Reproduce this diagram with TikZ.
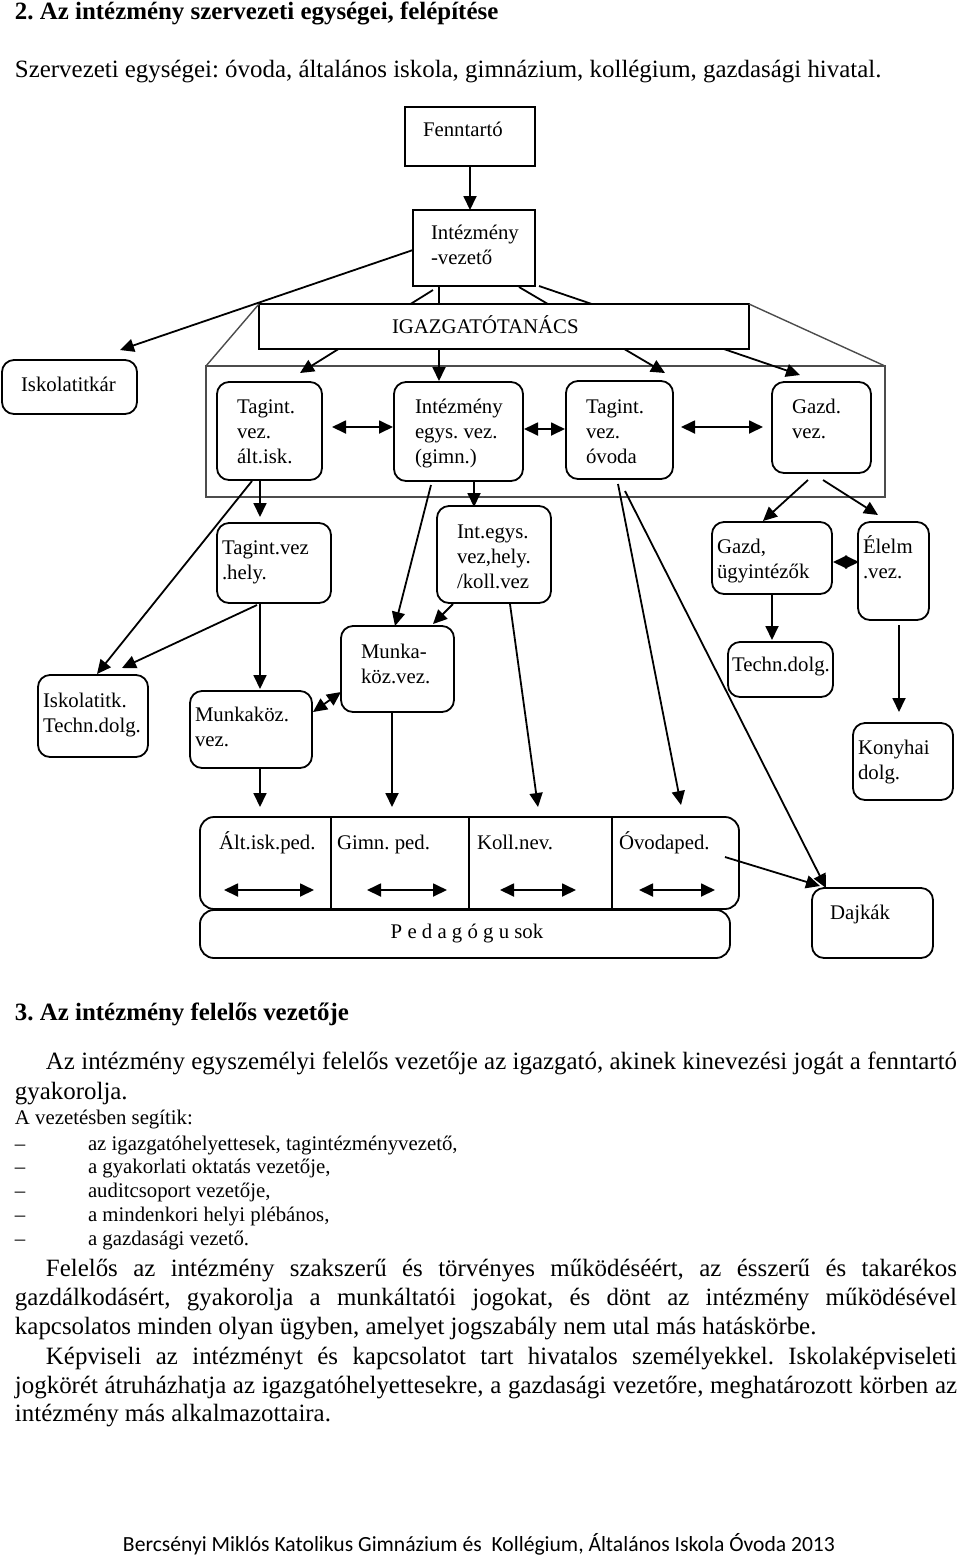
\documentclass[tikz,border=0pt]{standalone}
\usepackage{fontspec}
\usepackage{graphicx}
\setmainfont{Liberation Serif}
\newfontfamily\footfont{Carlito}
\usetikzlibrary{arrows.meta,calc,fit}
\begin{document}
\frenchspacing
\begin{tikzpicture}[x=0.5pt,y=-0.5pt,
  every node/.style={inner sep=0pt,outer sep=0pt},
  sbox/.style={draw,line width=0.9pt,fit={#1},inner sep=0pt},
  rbox/.style={draw,line width=0.9pt,rounded corners=6pt,fit={#1},inner sep=0pt},
  btxt/.style={anchor=north west,align=left,font=\fontsize{10.4}{12.5}\selectfont},
  ptxt/.style={anchor=base west,font=\fontsize{12.45}{14}\selectfont},
  btitle/.style={anchor=base west,font=\bfseries\fontsize{12.45}{14}\selectfont},
  ltxt/.style={anchor=base west,font=\fontsize{10.4}{12.5}\selectfont},
  arr/.style={line width=0.9pt,-{Triangle[length=7pt,width=6.5pt]}},
  darr/.style={line width=0.9pt,{Triangle[length=7pt,width=6.5pt]}-{Triangle[length=7pt,width=6.5pt]}},
  frm/.style={draw=black!70,line width=0.7pt}
]
\fill[white] (0,0) rectangle (960,1560);
\useasboundingbox (0,0) rectangle (960,1560);

% ---------- top texts
\node[btitle] (t1) at (15,19) {2. Az intézmény szervezeti egységei, felépítése};
\node[ptxt] (t2) at (15,77) {Szervezeti egységei: óvoda, általános iskola, gimnázium, kollégium, gazdasági hivatal.};

% ---------- boxes
\node[sbox={(405,107) (535,166)}] (f) {};
\node[btxt] (ft) at (423,118.5) {\strut Fenntartó};
\node[sbox={(413,210) (535,286)}] (iv) {};
\node[btxt] (ivt) at (431,221.5) {\strut Intézmény\\\strut -vezető};

\node[frm,fit={(206,366) (885,497)},inner sep=0pt] (frame) {};

\node[rbox={(2,360) (137,414)}] (is) {};
\node[btxt] (ist) at (21,373.5) {\strut Iskolatitkár};

\node[rbox={(217,382) (322,480)}] (ai) {};
\node[btxt] (ait) at (237,395.5) {\strut Tagint.\\\strut vez.\\\strut ált.isk.};
\node[rbox={(394,382) (523,481)}] (eg) {};
\node[btxt] (egt) at (415,395.5) {\strut Intézmény\\\strut egys. vez.\\\strut (gimn.)};
\node[rbox={(566,381) (673,479)}] (ov) {};
\node[btxt] (ovt) at (586,395.5) {\strut Tagint.\\\strut vez.\\\strut óvoda};
\node[rbox={(772,382) (871,473)}] (gv) {};
\node[btxt] (gvt) at (792,395.5) {\strut Gazd.\\\strut vez.};

\node[rbox={(217,523) (331,603)}] (th) {};
\node[btxt] (tht) at (222,536.5) {\strut Tagint.vez\\\strut .hely.};
\node[rbox={(437,506) (551,603)}] (ie) {};
\node[btxt] (iet) at (457,520.5) {\strut Int.egys.\\\strut vez,hely.\\\strut /koll.vez};
\node[rbox={(712,522) (832,594)}] (gu) {};
\node[btxt] (gut) at (717,535.5) {\strut Gazd,\\\strut ügyintézők};
\node[rbox={(858,522) (929,620)}] (el) {};
\node[btxt] (elt) at (863,535.5) {\strut Élelm\\\strut .vez.};

\node[rbox={(38,675) (148,757)}] (it) {};
\node[btxt] (itt) at (43,689.5) {\strut Iskolatitk.\\\strut Techn.dolg.};
\node[rbox={(190,691) (312,768)}] (mv) {};
\node[btxt] (mvt) at (195,703.5) {\strut Munkaköz.\\\strut vez.};
\node[rbox={(341,626) (454,712)}] (mk) {};
\node[btxt] (mkt) at (361,640.5) {\strut Munka-\\\strut köz.vez.};
\node[rbox={(728,642) (833,697)}] (td) {};
\node[btxt] (tdt) at (732,653.5) {\strut Techn.dolg.};
\node[rbox={(853,723) (953,800)}] (kd) {};
\node[btxt] (kdt) at (858,736.5) {\strut Konyhai\\\strut dolg.};

\node[draw,line width=0.9pt,rounded corners=7pt,fit={(200,817) (739,909)},inner sep=0pt] (ped) {};
\draw[line width=0.7pt] ($(ped.north west)+(131,0)$) -- ($(ped.south west)+(131,0)$);
\draw[line width=0.7pt] ($(ped.north west)+(269,0)$) -- ($(ped.south west)+(269,0)$);
\draw[line width=0.7pt] ($(ped.north west)+(412,0)$) -- ($(ped.south west)+(412,0)$);
\node[btxt] (p1t) at (219,831.5) {\strut Ált.isk.ped.};
\node[btxt] (p2t) at (337,831.5) {\strut Gimn. ped.};
\node[btxt] (p3t) at (477,831.5) {\strut Koll.nev.};
\node[btxt] (p4t) at (619,831.5) {\strut Óvodaped.};
\node[draw,line width=0.9pt,rounded corners=7pt,fit={(200,910) (730,958)},inner sep=0pt] (peds) {};
\node[font=\fontsize{10.4}{12}\selectfont] (pedst) at (467,933) {P e d a g ó g u sok};
\node[rbox={(812,888) (933,958)}] (dj) {};
\node[btxt] (djt) at (830,901.5) {\strut Dajkák};

% ---------- connectors
\draw[arr] (f.south) -- (f.south |- iv.north);
\draw[arr] ($(iv.west)+(0,2)$) -- ($(is.north east)+(-17,-10)$);
\draw[arr] ($(iv.south west)+(20,4)$) -- ($(ai.north west)+(83,-9)$);
\draw[arr] ($(iv.south west)+(26,0)$) -- ($(eg.north west)+(45,-1)$);
\draw[arr] ($(iv.south east)+(-16,1)$) -- ($(ov.north east)+(-8,-8)$);
\draw[arr] ($(iv.south east)+(4,0)$) -- ($(gv.north west)+(28,-7)$);

\node[draw,line width=0.9pt,fill=white,fit={(259,304) (749,349)},inner sep=0pt] (ig) {};
\node[anchor=base west,font=\fontsize{10.4}{12}\selectfont] (igt) at (392,333) {IGAZGATÓTANÁCS};
\draw[frm] (frame.north west) -- (ig.north west);
\draw[frm] (ig.north east) -- (frame.north east);

\draw[darr] ($(ai.east)+(10,-4)$) -- ($(eg.west)+(-1,-4.5)$);
\draw[darr] ($(eg.east)+(1,-2.5)$) -- ($(ov.west)+(-1,-1)$);
\draw[darr] ($(ov.east)+(8,-3)$) -- ($(gv.west)+(-9,-0.5)$);

\draw[arr] ($(ai.south west)+(43,0)$) -- ($(th.north west)+(43,-6)$);
\draw[arr] ($(ai.south west)+(35,1)$) -- ($(it.north west)+(59,-1)$);
\draw[arr] ($(th.south west)+(40,2)$) -- ($(it.north west)+(84,-7)$);
\draw[arr] ($(th.south west)+(43,0)$) -- ($(mv.north west)+(70,-2)$);
\draw[darr] ($(mv.north east)+(1,21)$) -- ($(mk.south west)+(0,-20)$);
\draw[arr] ($(eg.south west)+(37,4)$) -- ($(mk.north west)+(54,0)$);
\draw[arr] ($(eg.south west)+(80,0)$) -- ($(ie.north west)+(37,1)$);
\draw[arr] ($(ie.south west)+(16,1)$) -- ($(mk.north east)+(-21,-2)$);
\draw[arr] ($(ie.south west)+(73,1)$) -- ($(ped.north west)+(338,-10)$);
\draw[arr] ($(mk.south west)+(51,1)$) -- ($(ped.north west)+(192,-10)$);
\draw[arr] ($(mv.south west)+(70,1)$) -- ($(ped.north west)+(60,-10)$);
\draw[arr] ($(ov.south west)+(52,5)$) -- ($(ped.north west)+(481,-12)$);
\draw[arr] ($(ov.south west)+(59,12)$) -- ($(dj.north west)+(14,0)$);
\draw[arr] ($(ped.north east)+(-14,40)$) -- ($(dj.north west)+(8,-2)$);

\draw[arr] ($(gv.south west)+(36,7)$) -- ($(gu.north west)+(51,-1)$);
\draw[arr] ($(gv.south west)+(51,7)$) -- ($(el.north west)+(20,-7)$);
\draw[darr] ($(gu.east)+(1,4)$) -- ($(el.west)+(1,-9)$);
\draw[arr] ($(gu.south west)+(60,1)$) -- ($(td.north west)+(44,-2)$);
\draw[arr] ($(el.south west)+(41,5)$) -- ($(kd.north west)+(46,-11)$);

\draw[darr] ($(ped.south west)+(24,-19)$) -- ($(ped.south west)+(114,-19)$);
\draw[darr] ($(ped.south west)+(167,-19)$) -- ($(ped.south west)+(247,-19)$);
\draw[darr] ($(ped.south west)+(300,-19)$) -- ($(ped.south west)+(376,-19)$);
\draw[darr] ($(ped.south west)+(439,-19)$) -- ($(ped.south west)+(515,-19)$);

% ---------- lower texts
\node[btitle] (t3) at (15,1020) {3. Az intézmény felelős vezetője};
\node[ptxt] (a1) at (46,1069) {\makebox[455.5pt][s]{Az intézmény egyszemélyi felelős vezetője az igazgató, akinek kinevezési jogát a fenntartó}};
\node[ptxt] (a2) at (15,1099) {gyakorolja.};
\node[ltxt] (l0) at (15,1124) {A vezetésben segítik:};
\node[ltxt] (d1) at (15,1150) {–};
\node[ltxt] (i1) at (88,1150) {az igazgatóhelyettesek, tagintézményvezető,};
\node[ltxt] (d2) at (15,1173) {–};
\node[ltxt] (i2) at (88,1173) {a gyakorlati oktatás vezetője,};
\node[ltxt] (d3) at (15,1197) {–};
\node[ltxt] (i3) at (88,1197) {auditcsoport vezetője,};
\node[ltxt] (d4) at (15,1221) {–};
\node[ltxt] (i4) at (88,1221) {a mindenkori helyi plébános,};
\node[ltxt] (d5) at (15,1245) {–};
\node[ltxt] (i5) at (88,1245) {a gazdasági vezető.};
\node[ptxt] (q1) at (46,1276) {\makebox[455.5pt][s]{Felelős az intézmény szakszerű és törvényes működéséért, az ésszerű és takarékos}};
\node[ptxt] (q2) at (15,1305) {\makebox[471pt][s]{gazdálkodásért, gyakorolja a munkáltatói jogokat, és dönt az intézmény működésével}};
\node[ptxt] (q3) at (15,1334) {kapcsolatos minden olyan ügyben, amelyet jogszabály nem utal más hatáskörbe.};
\node[ptxt] (r1) at (46,1364) {\makebox[455.5pt][s]{Képviseli az intézményt és kapcsolatot tart hivatalos személyekkel. Iskolaképviseleti}};
\node[ptxt] (r2) at (15,1393) {\makebox[471pt][s]{jogkörét átruházhatja az igazgatóhelyettesekre, a gazdasági vezetőre, meghatározott körben az}};
\node[ptxt] (r3) at (15,1421) {intézmény más alkalmazottaira.};
\node[anchor=base,font=\footfont\fontsize{11}{13}\selectfont] (foot) at (479,1551) {\resizebox{356pt}{!}{Bercsényi Miklós Katolikus Gimnázium és\ \ Kollégium, Általános Iskola Óvoda 2013}};
\end{tikzpicture}
\end{document}
